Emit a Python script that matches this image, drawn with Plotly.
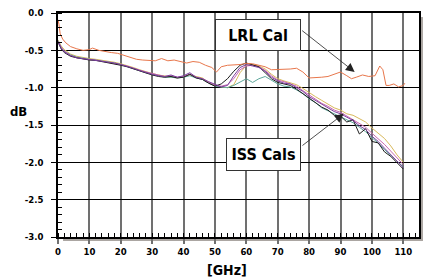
import plotly.graph_objects as go

# ---------------- data ----------------
LRL_X = [0, 0.3, 0.7, 1.5, 2.5, 4, 6, 8, 10, 11, 13, 15, 17, 19, 21, 23, 25, 27, 29, 31,
         33, 35, 37, 39, 41, 43, 45, 47, 49, 50.5, 52, 54, 56, 58, 60, 62, 64, 66, 68, 70,
         72, 74, 76, 78, 80, 82, 84, 86, 88, 90, 92, 93.5, 95, 97, 99, 101, 102.5, 103.5,
         104.5, 105.5, 107, 108.5, 110, 110.5]
LRL_DB = [-0.09, -0.15, -0.28, -0.35, -0.40, -0.45, -0.48, -0.50, -0.49, -0.47, -0.50, -0.52,
          -0.53, -0.54, -0.57, -0.60, -0.62, -0.63, -0.63, -0.64, -0.61, -0.64, -0.63, -0.65,
          -0.67, -0.65, -0.66, -0.70, -0.73, -0.79, -0.72, -0.70, -0.70, -0.69, -0.675, -0.68,
          -0.70, -0.72, -0.76, -0.76, -0.75, -0.75, -0.74, -0.79, -0.87, -0.86, -0.86, -0.85,
          -0.82, -0.79, -0.84, -0.88, -0.86, -0.83, -0.85, -0.84, -0.71, -0.76, -0.97, -0.97,
          -0.95, -0.99, -0.97, -0.94]

ISS_X = [0, 0.5, 1, 2, 3, 4, 6, 8, 10, 12, 14, 16, 18, 20, 22, 24, 26, 28, 30, 32, 34, 36,
         38, 40, 42, 44, 46, 48, 50, 52, 54, 56, 58, 60, 62, 64, 66, 68, 70, 72, 74, 76, 78,
         80, 82, 84, 86, 88, 90, 92, 94, 96, 98, 100, 102, 104, 106, 108, 110]

ISS_PURPLE = [-0.38, -0.43, -0.47, -0.52, -0.55, -0.57, -0.60, -0.61, -0.62, -0.63, -0.64,
              -0.655, -0.67, -0.69, -0.71, -0.74, -0.77, -0.80, -0.82, -0.84, -0.85, -0.83,
              -0.86, -0.84, -0.80, -0.86, -0.88, -0.92, -0.96, -0.99, -0.97, -0.84, -0.73,
              -0.69, -0.71, -0.73, -0.78, -0.86, -0.91, -0.94, -0.95, -1.00, -1.05, -1.12,
              -1.17, -1.23, -1.27, -1.32, -1.35, -1.40, -1.44, -1.51, -1.56, -1.65, -1.72,
              -1.81, -1.90, -1.98, -2.07]
ISS_BLACK = [-0.39, -0.44, -0.48, -0.53, -0.56, -0.58, -0.60, -0.62, -0.63, -0.635, -0.65,
             -0.66, -0.68, -0.70, -0.72, -0.75, -0.78, -0.80, -0.83, -0.85, -0.86, -0.85,
             -0.87, -0.86, -0.82, -0.87, -0.89, -0.94, -0.98, -0.95, -0.88, -0.78, -0.70,
             -0.67, -0.70, -0.72, -0.80, -0.88, -0.93, -0.95, -0.97, -1.02, -1.08, -1.14,
             -1.19, -1.26, -1.30, -1.37, -1.38, -1.46, -1.43, -1.62, -1.55, -1.72, -1.74,
             -1.86, -1.92, -2.01, -2.09]
ISS_TAN = [-0.36, -0.40, -0.44, -0.49, -0.52, -0.55, -0.58, -0.60, -0.61, -0.62, -0.63,
           -0.64, -0.66, -0.68, -0.70, -0.73, -0.76, -0.79, -0.81, -0.83, -0.84, -0.86,
           -0.87, -0.85, -0.83, -0.85, -0.87, -0.93, -0.97, -0.99, -1.00, -0.96, -0.80,
           -0.70, -0.69, -0.71, -0.75, -0.82, -0.88, -0.91, -0.93, -0.96, -1.01, -1.07,
           -1.12, -1.17, -1.22, -1.27, -1.30, -1.35, -1.37, -1.42, -1.46, -1.54, -1.61,
           -1.68, -1.78, -1.90, -2.00]
ISS_TEAL = [-0.37, -0.42, -0.46, -0.51, -0.54, -0.56, -0.59, -0.61, -0.62, -0.63, -0.64,
            -0.65, -0.67, -0.69, -0.72, -0.75, -0.78, -0.80, -0.82, -0.84, -0.86, -0.86,
            -0.87, -0.86, -0.84, -0.87, -0.89, -0.94, -0.98, -0.99, -1.00, -0.97, -0.92,
            -0.88, -0.93, -0.88, -0.85, -0.90, -0.95, -0.98, -0.99, -1.03, -1.08, -1.15,
            -1.20, -1.27, -1.31, -1.35, -1.38, -1.43, -1.47, -1.53, -1.59, -1.67, -1.74,
            -1.83, -1.91, -1.99, -2.06]
ISS_PINK = [-0.38, -0.42, -0.46, -0.51, -0.54, -0.57, -0.60, -0.615, -0.625, -0.63, -0.645,
            -0.655, -0.67, -0.69, -0.71, -0.74, -0.77, -0.79, -0.81, -0.83, -0.85, -0.84,
            -0.86, -0.85, -0.82, -0.86, -0.88, -0.93, -0.97, -0.98, -0.96, -0.88, -0.76,
            -0.71, -0.70, -0.72, -0.77, -0.84, -0.90, -0.92, -0.95, -0.98, -1.04, -1.10,
            -1.15, -1.21, -1.25, -1.30, -1.33, -1.38, -1.42, -1.48, -1.53, -1.61, -1.68,
            -1.76, -1.85, -1.94, -2.03]

X_TICKS = [0, 10, 20, 30, 40, 50, 60, 70, 80, 90, 100, 110]
X_TICK_TEXT = [str(v) for v in X_TICKS]
Y_TICKS = [0, -0.5, -1.0, -1.5, -2.0, -2.5, -3.0]
Y_TICK_TEXT = ["0.0", "-0.5", "-1.0", "-1.5", "-2.0", "-2.5", "-3.0"]

# ---------------- figure ----------------
FONT = "Liberation Sans Narrow, Arial Narrow, DejaVu Sans Condensed, Liberation Sans, sans-serif"

fig = go.Figure()
iss = [(ISS_TAN, "#D9B95C"), (ISS_TEAL, "#5FA89C"), (ISS_PINK, "#C868AE"),
       (ISS_BLACK, "#1E1E1E"), (ISS_PURPLE, "#7A3E9E")]
for ys, col in iss:
    fig.add_trace(go.Scatter(x=ISS_X, y=ys, mode="lines",
                             line=dict(color=col, width=1), showlegend=False))
fig.add_trace(go.Scatter(x=LRL_X, y=LRL_DB, mode="lines",
                         line=dict(color="#E8774C", width=1), showlegend=False))

fig.update_layout(
    width=425, height=277,
    margin=dict(l=58, r=4, t=13, b=40),
    paper_bgcolor="white", plot_bgcolor="white",
    font=dict(family=FONT, color="black"),
    showlegend=False,
)
fig.update_xaxes(
    range=[0, 115], tickvals=X_TICKS, ticktext=X_TICK_TEXT,
    showgrid=True, gridcolor="#707070", gridwidth=1.5,
    showline=True, linecolor="black", linewidth=1.5, mirror=True,
    ticks="outside", ticklen=5, tickcolor="#707070", tickwidth=1.5,
    minor=dict(dtick=2, tick0=0, ticks="inside", ticklen=4, tickcolor="black",
               tickwidth=1, showgrid=False),
    zeroline=False, tickfont=dict(size=9.5, family=FONT, weight="bold"),
    ticklabelstandoff=0,
)
fig.update_yaxes(
    range=[-3, 0], tickvals=Y_TICKS, ticktext=Y_TICK_TEXT,
    showgrid=True, gridcolor="black", gridwidth=1.3,
    showline=True, linecolor="black", linewidth=1.5, mirror=True,
    ticks="outside", ticklen=5, tickcolor="black", tickwidth=1.3,
    minor=dict(dtick=0.1, tick0=0, ticks="inside", ticklen=4, tickcolor="black",
               tickwidth=1, showgrid=False),
    zeroline=False, tickfont=dict(size=9.5, family=FONT, weight="bold"),
    ticklabelstandoff=6,
)

# drop shadow of the plot frame
SH = "#ABA6A2"
fig.add_shape(type="rect", xref="paper", yref="paper", x0=1.002, x1=1.011,
              y0=-0.018, y1=0.982, fillcolor=SH, line_width=0, layer="below")
fig.add_shape(type="rect", xref="paper", yref="paper", x0=0.014, x1=1.011,
              y0=-0.018, y1=-0.003, fillcolor=SH, line_width=0, layer="below")

# axis titles
fig.add_annotation(text="<b>dB</b>", xref="paper", yref="paper", x=-0.11, y=0.56,
                   xanchor="center", yanchor="middle",
                   showarrow=False, font=dict(size=13, family=FONT))
fig.add_annotation(text="<b>[GHz]</b>", xref="paper", yref="paper", x=0.468, y=-0.148,
                   xanchor="center", yanchor="middle",
                   showarrow=False, font=dict(size=14, family=FONT))

# callout boxes
fig.add_annotation(text="<b>LRL Cal</b>", x=63.7, y=-0.295, xref="x", yref="y",
                   xanchor="center", yanchor="middle",
                   showarrow=False, width=84, height=30, bgcolor="white",
                   bordercolor="#333333", borderwidth=1, borderpad=0,
                   font=dict(size=16, family=FONT))
fig.add_annotation(text="<b>ISS Cals</b>", x=65.5, y=-1.897, xref="x", yref="y",
                   xanchor="center", yanchor="middle",
                   showarrow=False, width=73, height=31, bgcolor="white",
                   bordercolor="#333333", borderwidth=1, borderpad=0,
                   font=dict(size=16, family=FONT))

# arrows
fig.add_annotation(text="", x=94.5, y=-0.79, ax=77.3, ay=-0.22, xref="x", yref="y",
                   axref="x", ayref="y", showarrow=True, arrowhead=2, arrowsize=2.2,
                   arrowwidth=0.8, arrowcolor="#222222", standoff=0, startstandoff=0)
fig.add_annotation(text="", x=91.0, y=-1.35, ax=77.4, ay=-1.79, xref="x", yref="y",
                   axref="x", ayref="y", showarrow=True, arrowhead=2, arrowsize=2.2,
                   arrowwidth=0.8, arrowcolor="#222222", standoff=0, startstandoff=0)

fig.write_html("out.html", config={"displayModeBar": False},
               post_script="document.body.style.margin='0';")
